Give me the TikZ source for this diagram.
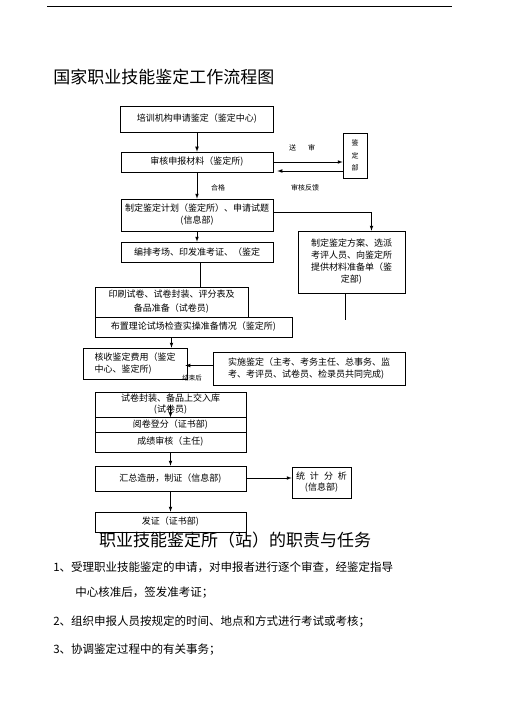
\documentclass[tikz,border=0pt]{standalone}
\usepackage{fontspec}
\newfontfamily\cjk{Noto Sans CJK SC}
\usetikzlibrary{calc,positioning}

\begin{document}
\begin{tikzpicture}[x=1pt,y=-1pt,>=latex,line width=0.7pt,
                    main box/.style={draw,rectangle,inner sep=1pt,align=center,font=\cjk\fontsize{9}{12}\selectfont},
                    small label/.style={inner sep=0pt,font=\cjk\fontsize{7}{8}\selectfont},
                    big title/.style={inner sep=0pt,font=\cjk\fontsize{17}{20}\selectfont},
                    list item/.style={inner sep=0pt,anchor=west,font=\cjk\fontsize{11.5}{14}\selectfont}]

  \useasboundingbox (0,0) rectangle (505,714);
  \draw (47,6) -- (452,6);

  \node[big title,anchor=west] (title) at (53,77) {国家职业技能鉴定工作流程图};

  % left column of the flow
  \node[main box,minimum width=153pt,minimum height=26pt] (1) at (197,119) {培训机构申请鉴定（鉴定中心)};
  \node[main box,minimum width=152pt,minimum height=20pt] (2) at (197,162) {审核申报材料（鉴定所)};
  \node[main box,minimum width=24pt,minimum height=45pt,font=\cjk\fontsize{7}{12.5}\selectfont] (dept) at (355,155.5) {鉴\\定\\部};
  \node[main box,minimum width=152pt,minimum height=32pt] (3) at (197,215) {制定鉴定计划（鉴定所）、申请试题\\(信息部)};
  \node[main box,minimum width=107pt,minimum height=62pt] (4) at (351.5,262) {制定鉴定方案、选派\\考评人员、向鉴定所\\提供材料准备单（鉴\\定部)};
  \node[main box,minimum width=152pt,minimum height=20pt] (5) at (197,252) {编排考场、印发准考证、（鉴定};
  \node[main box,minimum width=153pt,minimum height=30pt,font=\cjk\fontsize{9}{14}\selectfont] (6) at (171.5,302) {印刷试卷、试卷封装、评分表及\\备品准备（试卷员)};
  \node[main box,minimum width=197pt,minimum height=20pt] (7) at (193.5,327) {布置理论试场检查实操准备情况（鉴定所)};
  \node[main box,minimum width=104pt,minimum height=31pt,align=left] (8) at (135,363.5) {核收鉴定费用（鉴定\\中心、鉴定所)};
  \node[main box,minimum width=192pt,minimum height=33pt,align=left,font=\cjk\fontsize{9}{11.5}\selectfont] (9) at (309,368.5) {实施鉴定（主考、考务主任、总事务、监\\考、考评员、试卷员、检录员共同完成)};
  \node[main box,minimum width=151pt,minimum height=25pt,font=\cjk\fontsize{9}{11}\selectfont] (10) at (170.5,404.5) {试卷封装、备品上交入库\\(试卷员)};
  \node[main box,minimum width=151pt,minimum height=15pt] (11) at (170.5,424.5) {阅卷登分（证书部)};
  \node[main box,minimum width=151pt,minimum height=20pt] (12) at (170.5,442) {成绩审核（主任)};
  \node[main box,minimum width=151pt,minimum height=25pt] (13) at (170.5,478.5) {汇总造册，制证（信息部)};
  \node[main box,minimum width=59pt,minimum height=31pt,font=\cjk\fontsize{9}{11}\selectfont] (14) at (321.5,482.5) {统\hspace{5pt}计\hspace{5pt}分\hspace{5pt}析\\(信息部)};
  \node[main box,minimum width=151pt,minimum height=20pt] (15) at (170.5,522) {发证（证书部)};

  \coordinate (e4) at (345,320);

  \path[->]
    (1) edge (2)
    (2) edge (3)
    (3) edge (5)
    (12) edge (13)
    (13) edge (15);

  \draw[->] (2.east) -- (2.east -| dept.west);
  \draw[->] ($(2.east)+(70,9)$) -- ($(2.east)+(4,9)$);
  \draw[->] ([yshift=3pt]3.east) -| ([xshift=20pt]4.north);
  \draw ([xshift=3pt]5.south) -- ([xshift=3pt]5.south |- 6.north);
  \draw (e4 |- 4.south) -- (e4);
  \draw[->] (7.south -| 6) -- (8.north -| 6);
  \draw[->] ([yshift=3pt]9.west) -- ([yshift=3pt,xshift=-2pt]9.west -| 8.east);
  \draw[->] (10.center) -- (10.south);
  \draw[->] ([yshift=0.5pt]13.east) -- ([yshift=0.5pt]13.east -| 14.west);

  \node[small label] (send) at (302,148) {送\hspace{12pt}审};
  \node[small label] (back) at (305,188) {审核反馈};
  \node[small label] (pass) at (218,188) {合格};
  \node[small label,font=\cjk\fontsize{6.5}{8}\selectfont] (after) at (192,378) {结束后};

  % duties of the station
  \node[big title] (duty) at (235,540) {职业技能鉴定所（站）的职责与任务};
  \node[list item] (i1) at (53,567) {1、受理职业技能鉴定的申请，对申报者进行逐个审查，经鉴定指导};
  \node[list item] (i1b) at (75,593) {中心核准后，签发准考证；};
  \node[list item] (i2) at (53,622) {2、组织申报人员按规定的时间、地点和方式进行考试或考核；};
  \node[list item] (i3) at (53,650) {3、协调鉴定过程中的有关事务；};

\end{tikzpicture}
\end{document}
